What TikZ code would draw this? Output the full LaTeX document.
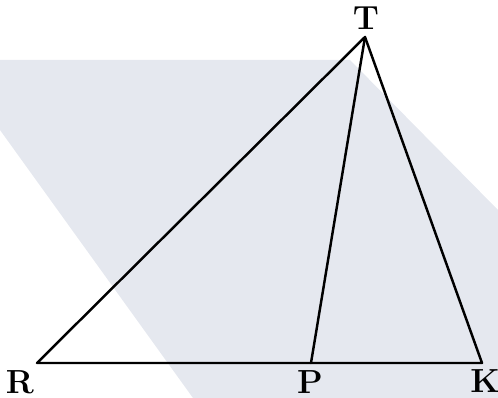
\documentclass[tikz,border=0pt]{standalone}
\usepackage{tikz}
\usepackage{xcolor}
\definecolor{bandgray}{RGB}{229,232,239}

\begin{document}
\begin{tikzpicture}[x=0.02cm,y=-0.02cm,line cap=round,line join=round,
  side/.style={line width=1.4pt},
  lbl/.style={font=\fontsize{19}{22}\selectfont\bfseries,inner sep=0pt}]
\useasboundingbox (0,0) rectangle (498,398);
% faint background band
\fill[bandgray] (0,60) -- (350,60) -- (498,210) -- (498,398) -- (193,398) -- (0,130) -- cycle;
% points
\coordinate (T) at (365,37);
\coordinate (R) at (37,363);
\coordinate (P) at (311,363);
\coordinate (K) at (482,363);
% sides
\draw[side] (R) -- (T) -- (K) -- cycle;
\draw[side] (T) -- (P);
% labels
\node[lbl] (labT) at (366,18) {T};
\node[lbl] (labR) at (20,382) {R};
\node[lbl] (labP) at (310,382) {P};
\node[lbl] (labK) at (485,381) {K};
\end{tikzpicture}
\end{document}
